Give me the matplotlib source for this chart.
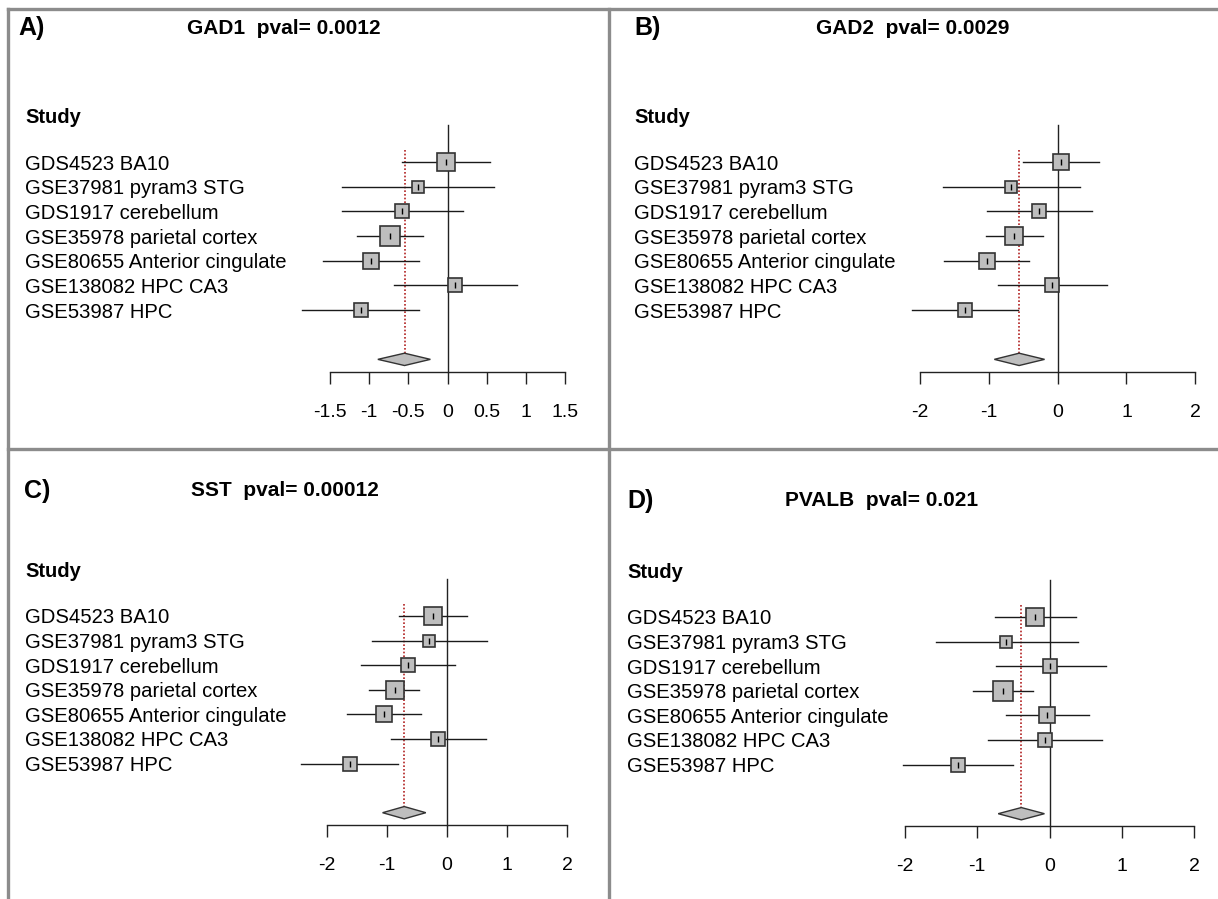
import matplotlib
matplotlib.use("Agg")
import matplotlib.pyplot as plt
from matplotlib.patches import Polygon
from matplotlib.lines import Line2D
from matplotlib.transforms import blended_transform_factory
import numpy as np

plt.rcParams['font.family'] = ['Liberation Sans', 'DejaVu Sans']

# ---------------- data ----------------
studies = ["GDS4523 BA10", "GSE37981 pyram3 STG", "GDS1917 cerebellum",
           "GSE35978 parietal cortex", "GSE80655 Anterior cingulate",
           "GSE138082 HPC CA3", "GSE53987 HPC"]

genes = ["GAD1", "GAD2", "SST", "PVALB"]
pvals = ["0.0012", "0.0029", "0.00012", "0.021"]
panel_letters = ["A)", "B)", "C)", "D)"]

gad1_est = [-0.02, -0.38, -0.58, -0.73, -0.98, 0.09, -1.11]
gad1_lo = [-0.58, -1.35, -1.35, -1.15, -1.59, -0.69, -1.86]
gad1_hi = [0.54, 0.59, 0.20, -0.31, -0.36, 0.88, -0.36]
gad1_w = [17.2, 9.0, 11.5, 21.3, 16.6, 12.0, 12.4]
gad1_summary = [-0.55, -0.89, -0.22]

gad2_est = [0.05, -0.68, -0.27, -0.63, -1.03, -0.08, -1.34]
gad2_lo = [-0.51, -1.67, -1.02, -1.04, -1.65, -0.87, -2.12]
gad2_hi = [0.60, 0.32, 0.50, -0.22, -0.42, 0.71, -0.57]
gad2_w = [16.7, 8.7, 11.6, 20.6, 16.1, 13.2, 13.2]
gad2_summary = [-0.56, -0.92, -0.19]

sst_est = [-0.23, -0.29, -0.64, -0.87, -1.05, -0.14, -1.61]
sst_lo = [-0.79, -1.25, -1.43, -1.30, -1.67, -0.93, -2.43]
sst_hi = [0.33, 0.67, 0.14, -0.46, -0.43, 0.65, -0.82]
sst_w = [17.4, 8.8, 12.2, 20.5, 16.1, 13.2, 11.6]
sst_summary = [-0.71, -1.07, -0.35]

pvalb_est = [-0.20, -0.60, 0.01, -0.64, -0.03, -0.06, -1.26]
pvalb_lo = [-0.75, -1.57, -0.74, -1.06, -0.60, -0.85, -2.03]
pvalb_hi = [0.36, 0.39, 0.78, -0.23, 0.55, 0.73, -0.50]
pvalb_w = [17.2, 8.7, 11.5, 22.0, 16.6, 12.0, 12.0]
pvalb_summary = [-0.39, -0.71, -0.07]

xticks_A = [-1.5, -1, -0.5, 0, 0.5, 1, 1.5]
xticklabels_A = ["-1.5", "-1", "-0.5", "0", "0.5", "1", "1.5"]
xticks_BCD = [-2, -1, 0, 1, 2]
xticklabels_BCD = ["-2", "-1", "0", "1", "2"]

series = [
    (gad1_est, gad1_lo, gad1_hi, gad1_w, gad1_summary, xticks_A, xticklabels_A),
    (gad2_est, gad2_lo, gad2_hi, gad2_w, gad2_summary, xticks_BCD, xticklabels_BCD),
    (sst_est, sst_lo, sst_hi, sst_w, sst_summary, xticks_BCD, xticklabels_BCD),
    (pvalb_est, pvalb_lo, pvalb_hi, pvalb_w, pvalb_summary, xticks_BCD, xticklabels_BCD),
]

# ---------------- layout (pixels) ----------------
W, H = 1218, 899
fig = plt.figure(figsize=(W / 100, H / 100), dpi=100)

# axes rect: left, right, top, bottom (pixels)
axes_px = [(330, 565.3, 125, 371.7),
           (920, 1195.3, 125, 371.7),
           (326.7, 567, 579, 825),
           (905, 1194, 580, 826)]
label_x = [25, 634, 25, 627]
letter_pos = [(18, 28), (634, 28), (24, 491), (627, 501)]
title_cx = [284, 913, 285, 882]

def fx(x):
    return x / W

def fy(y):
    return 1 - y / H

border_col = '#8c8c8c'
for (x0, y0, x1, y1) in [(8, 9, 1218, 9), (8, 9, 8, 899), (8, 449, 1218, 449), (609, 9, 609, 899)]:
    fig.add_artist(Line2D([fx(x0), fx(x1)], [fy(y0), fy(y1)], color=border_col, lw=2.4,
                          transform=fig.transFigure))

rows = np.arange(1, len(studies) + 1)
diamond_y = 9.0
dh = 0.25
px_per_sqrtw = 4.4

for i, (est, lo, hi, w, summ, ticks, ticklabels) in enumerate(series):
    l, r, t, b = axes_px[i]
    ax = fig.add_axes([fx(l), fy(b), (r - l) / W, (b - t) / H])
    ax.set_xlim(ticks[0], ticks[-1])
    ax.set_ylim(9.5, -0.5)
    ax.patch.set_alpha(0)
    for s in ['top', 'left', 'right']:
        ax.spines[s].set_visible(False)
    ax.spines['bottom'].set_linewidth(1.0)
    ax.spines['bottom'].set_color('#222222')
    ax.set_yticks([])
    ax.set_xticks(ticks)
    ax.set_xticklabels(ticklabels, fontsize=14)
    ax.tick_params(axis='x', direction='out', length=8.6, width=1.0, color='#222222', pad=14.5)

    # zero line
    ax.plot([0, 0], [-0.5, 9.5], color='#222222', lw=1.0, clip_on=False, zorder=2)
    # summary dotted line
    ax.plot([summ[0], summ[0]], [0.5, diamond_y - dh], color='#b22222', lw=1.2,
            linestyle=(0, (1, 1.2)), clip_on=False, zorder=2)

    for j in range(len(est)):
        y = rows[j]
        ax.plot([lo[j], hi[j]], [y, y], color='#1a1a1a', lw=1.0, clip_on=False, zorder=3)
        side_px = px_per_sqrtw * np.sqrt(w[j]) - 1.0
        ax.plot([est[j]], [y], marker='s', markersize=side_px * 0.72,
                markerfacecolor='#bebebe', markeredgecolor='#333333', markeredgewidth=1.2,
                linestyle='none', clip_on=False, zorder=4)
        ax.plot([est[j]], [y], marker='|', markersize=4.0, color='black', mew=1.0,
                linestyle='none', clip_on=False, zorder=5)

    dia = Polygon([(summ[1], diamond_y), (summ[0], diamond_y - dh),
                   (summ[2], diamond_y), (summ[0], diamond_y + dh)],
                  closed=True, facecolor='#bebebe', edgecolor='#333333', lw=1.0,
                  clip_on=False, zorder=4)
    ax.add_patch(dia)

    trans = blended_transform_factory(fig.transFigure, ax.transData)
    ax.text(fx(label_x[i]), -0.9, "Study", transform=trans, fontsize=14.5,
            fontweight='bold', va='center_baseline', ha='left')
    for j, s in enumerate(studies):
        ax.text(fx(label_x[i]), rows[j], s, transform=trans, fontsize=14.6,
                va='center_baseline', ha='left')

    lx, ly = letter_pos[i]
    fig.text(fx(lx), fy(ly), panel_letters[i], fontsize=18, fontweight='bold',
             va='center', ha='left')
    fig.text(fx(title_cx[i]), fy(ly), f"{genes[i]}  pval= {pvals[i]}", fontsize=15,
             fontweight='bold', va='center', ha='center')

fig.savefig("out.png", dpi=100, facecolor='white')
